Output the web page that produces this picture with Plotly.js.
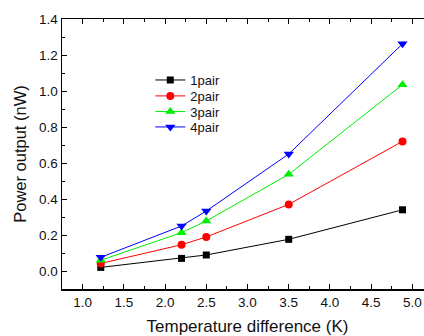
<!DOCTYPE html>
<html>
<head>
<meta charset="utf-8">
<script src="https://cdn.plot.ly/plotly-3.0.1.min.js"></script>
<style>
html, body { margin: 0; padding: 0; overflow: hidden; background: #fff; }
#chart { width: 433px; height: 336px; }
</style>
</head>
<body>
<div id="chart"></div>
<script>
const tempDiff = [1.22, 2.2, 2.5, 3.5, 4.88];
const pair1 = [0.02, 0.07, 0.089, 0.176, 0.34];
const pair2 = [0.042, 0.146, 0.189, 0.37, 0.72];
const pair3 = [0.06, 0.213, 0.278, 0.537, 1.035];
const pair4 = [0.076, 0.25, 0.333, 0.65, 1.262];
const seriesNames = ['1pair', '2pair', '3pair', '4pair'];
const seriesColors = ['#000000', '#ff0000', '#00ee00', '#0000ff'];
const seriesSymbols = ['square', 'circle', 'triangle-up', 'triangle-down'];
const seriesValues = [pair1, pair2, pair3, pair4];

const markerSizes = [7, 8, 9, 9];
const legendIds = ['legend', 'legend2', 'legend3', 'legend4'];
const legendY = [0.774, 0.715, 0.657, 0.6];

const traces = seriesValues.map((vals, i) => ({
  x: tempDiff,
  y: vals,
  name: seriesNames[i],
  legend: legendIds[i],
  type: 'scatter',
  mode: 'lines+markers',
  line: { color: seriesColors[i], width: 1 },
  marker: { color: seriesColors[i], symbol: seriesSymbols[i], size: markerSizes[i] }
}));

const axisCommon = {
  showgrid: false,
  zeroline: false,
  showline: true,
  linecolor: '#000',
  linewidth: 1.5,
  ticks: 'inside',
  ticklen: 5,
  tickwidth: 1,
  tickcolor: '#000',
  mirror: 'ticks',
  tickfont: { family: 'Liberation Sans, Arial, sans-serif', size: 13.5, color: '#111' }
};

const layout = {
  width: 433,
  height: 336,
  margin: { l: 62, r: 0, t: 19, b: 47 },
  paper_bgcolor: '#fff',
  plot_bgcolor: '#fff',
  showlegend: true,
  xaxis: Object.assign({}, axisCommon, {
    range: [0.75, 5.25],
    tickvals: [1.0, 1.5, 2.0, 2.5, 3.0, 3.5, 4.0, 4.5, 5.0],
    ticktext: ['1.0', '1.5', '2.0', '2.5', '3.0', '3.5', '4.0', '4.5', '5.0'],
    minor: { dtick: 0.25, tick0: 0, ticks: 'inside', ticklen: 3, tickcolor: '#000' },
    title: { text: 'Temperature difference (K)', standoff: 17,
      font: { family: 'Liberation Sans, Arial, sans-serif', size: 17, color: '#111' } }
  }),
  yaxis: Object.assign({}, axisCommon, {
    range: [-0.1, 1.4],
    tickvals: [0.0, 0.2, 0.4, 0.6, 0.8, 1.0, 1.2, 1.4],
    ticktext: ['0.0', '0.2', '0.4', '0.6', '0.8', '1.0', '1.2', '1.4'],
    minor: { dtick: 0.1, tick0: 0, ticks: 'inside', ticklen: 3, tickcolor: '#000' },
    title: { text: 'Power output (nW)', standoff: 8,
      font: { family: 'Liberation Sans, Arial, sans-serif', size: 16.5, color: '#111' } }
  })
};

legendIds.forEach((id, i) => {
  layout[id] = {
    x: 0.238, y: legendY[i], xanchor: 'left', yanchor: 'middle',
    bgcolor: 'rgba(0,0,0,0)',
    borderwidth: 0,
    font: { family: 'Liberation Sans, Arial, sans-serif', size: 13, color: '#111' }
  };
});

Plotly.newPlot('chart', traces, layout, { displayModeBar: false, staticPlot: true });
</script>
</body>
</html>
